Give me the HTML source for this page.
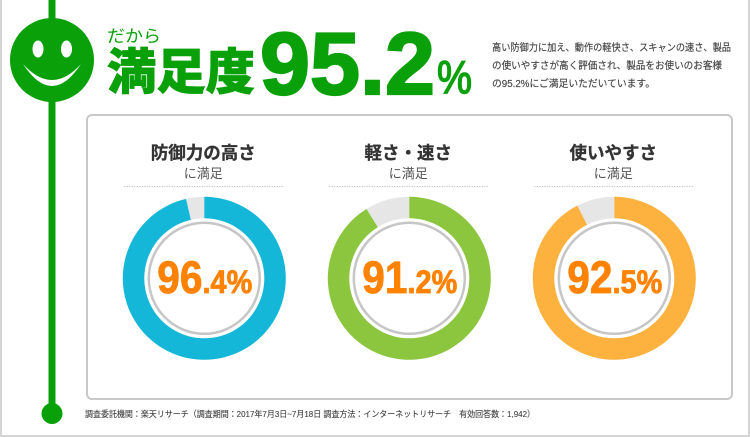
<!DOCTYPE html>
<html lang="ja">
<head>
<meta charset="utf-8">
<title>満足度95.2%</title>
<style>
html,body{margin:0;padding:0;background:#fff;}
svg{display:block;font-family:"Liberation Sans","Noto Sans CJK JP",sans-serif;}
</style>
</head>
<body>
<svg id="chart" xmlns="http://www.w3.org/2000/svg" width="750" height="437" viewBox="0 0 750 437">
  <rect x="0" y="0" width="750" height="437" fill="#fff"/>
  <rect x="0" y="0" width="2" height="437" fill="#d4d4d4"/>
  <rect x="748" y="0" width="2" height="437" fill="#d4d4d4"/>
  <rect x="0" y="435" width="750" height="2" fill="#d4d4d4"/>

  <rect x="48.5" y="0" width="7" height="414" fill="#0aa00a"/>
  <circle cx="52" cy="413.5" r="10.5" fill="#0aa00a"/>

  <g>
    <circle cx="52" cy="60" r="42" fill="#0aa00a"/>
    <ellipse cx="38" cy="49" rx="5.5" ry="8.5" fill="#fff"/>
    <ellipse cx="66.5" cy="49" rx="5.5" ry="8.5" fill="#fff"/>
    <path d="M23 64 Q52 108 81 64 Q52 96 23 64 Z" fill="#fff"/>
  </g>

  <text x="107" y="42" font-size="17" fill="#0aa00a" textLength="54" lengthAdjust="spacingAndGlyphs">だから</text>
  <text x="107" y="89" font-size="49" font-weight="900" fill="#0aa00a" stroke="#0aa00a" stroke-width="0.8" textLength="148" lengthAdjust="spacingAndGlyphs">満足度</text>
  <text x="260" y="94" font-size="88" font-weight="700" fill="#0aa00a" stroke="#0aa00a" stroke-width="2.2" textLength="175" lengthAdjust="spacingAndGlyphs">95.2</text>
  <text x="437" y="93" font-size="46" font-weight="400" fill="#0aa00a" stroke="#0aa00a" stroke-width="1.4" textLength="35" lengthAdjust="spacingAndGlyphs">%</text>

  <g font-size="10" fill="#444" stroke="#444" stroke-width="0.15">
    <text x="492" y="51" textLength="239" lengthAdjust="spacingAndGlyphs">高い防御力に加え、動作の軽快さ、スキャンの速さ、製品</text>
    <text x="492" y="69" textLength="230" lengthAdjust="spacingAndGlyphs">の使いやすさが高く評価され、製品をお使いのお客様</text>
    <text x="492" y="87" textLength="163" lengthAdjust="spacingAndGlyphs">の95.2%にご満足いただいています。</text>
  </g>

  <rect x="87" y="115" width="645" height="284" rx="5" ry="5" fill="#fff" stroke="#c8c8c8" stroke-width="2"/>
  <g id="donuts"></g>

  <text x="85" y="417" font-size="8.5" fill="#444" stroke="#444" stroke-width="0.12" textLength="450" lengthAdjust="spacingAndGlyphs">調査委託機関：楽天リサーチ（調査期間：2017年7月3日~7月18日 調査方法：インターネットリサーチ　有効回答数：1,942）</text>
</svg>
<script>
var categories = ['防御力の高さ', '軽さ・速さ', '使いやすさ'];
var satisfied = [96.4, 91.2, 92.5];
var subtitle = 'に満足';
var seriesColors = ['#14b7d8', '#8cc63f', '#fdb13f'];

var NS = 'http://www.w3.org/2000/svg';
var root = document.getElementById('donuts');
var axisTop = 278.3;
var outerR = 81.5;
var innerR = 60;
var ruleR = 55.5;

function centerX(i) {
  return 204.3 + i * 205;
}
function angleOf(v) {
  return v / 100 * 2 * Math.PI;
}
function pointAt(cx, r, v) {
  var a = angleOf(v);
  return [cx + r * Math.sin(a), axisTop - r * Math.cos(a)];
}
function sectorPath(cx, from, to) {
  var large = (to - from) > 50 ? 1 : 0;
  var a = pointAt(cx, outerR, from);
  var b = pointAt(cx, outerR, to);
  var c = pointAt(cx, innerR, to);
  var d = pointAt(cx, innerR, from);
  return 'M' + a[0] + ' ' + a[1] +
    'A' + outerR + ' ' + outerR + ' 0 ' + large + ' 1 ' + b[0] + ' ' + b[1] +
    'L' + c[0] + ' ' + c[1] +
    'A' + innerR + ' ' + innerR + ' 0 ' + large + ' 0 ' + d[0] + ' ' + d[1] + 'Z';
}
function make(tag, attrs, parent, text) {
  var el = document.createElementNS(NS, tag);
  for (var k in attrs) { el.setAttribute(k, attrs[k]); }
  if (text !== undefined) { el.textContent = text; }
  parent.appendChild(el);
  return el;
}

categories.forEach(function (name, i) {
  var cx = centerX(i);
  var v = satisfied[i];
  var g = make('g', {}, root);
  
  

  var title = make('text', {x: cx - 1, y: 159, 'font-size': 17.5, 'font-weight': 700, fill: '#333', stroke: '#333', 'stroke-width': 0.3, 'text-anchor': 'middle'}, g, name);
  
  

  var sub = make('text', {x: cx - 1, y: 178, 'font-size': 13, fill: '#555', 'text-anchor': 'middle'}, g, subtitle);
  
  

  var rule = make('line', {x1: cx - 80, x2: cx + 80, y1: 186.5, y2: 186.5, stroke: '#b8b8b8', 'stroke-width': 1, 'stroke-dasharray': '1 1.5'}, g);
  
  

  var rest = make('path', {d: sectorPath(cx, v, 100), fill: '#e6e6e6'}, g);
  
  

  var slice = make('path', {d: sectorPath(cx, 0, v), fill: seriesColors[i]}, g);
  
  

  var ring = make('circle', {cx: cx, cy: axisTop, r: ruleR, fill: '#fff', stroke: '#c6c6c6', 'stroke-width': 2.5}, g);
  
  

  var parts = v.toFixed(1).split('.');
  var label = make('text', {x: cx + 0.5, y: 293, fill: '#ff8200', stroke: '#ff8200', 'stroke-width': 0.8, 'font-weight': 700, 'text-anchor': 'middle', textLength: 95, lengthAdjust: 'spacingAndGlyphs', 'font-size': 44}, g);
  
  
  make('tspan', {'font-size': 45}, label, parts[0]);
  make('tspan', {'font-size': 32}, label, '.' + parts[1] + '%');
});
</script>
</body>
</html>
